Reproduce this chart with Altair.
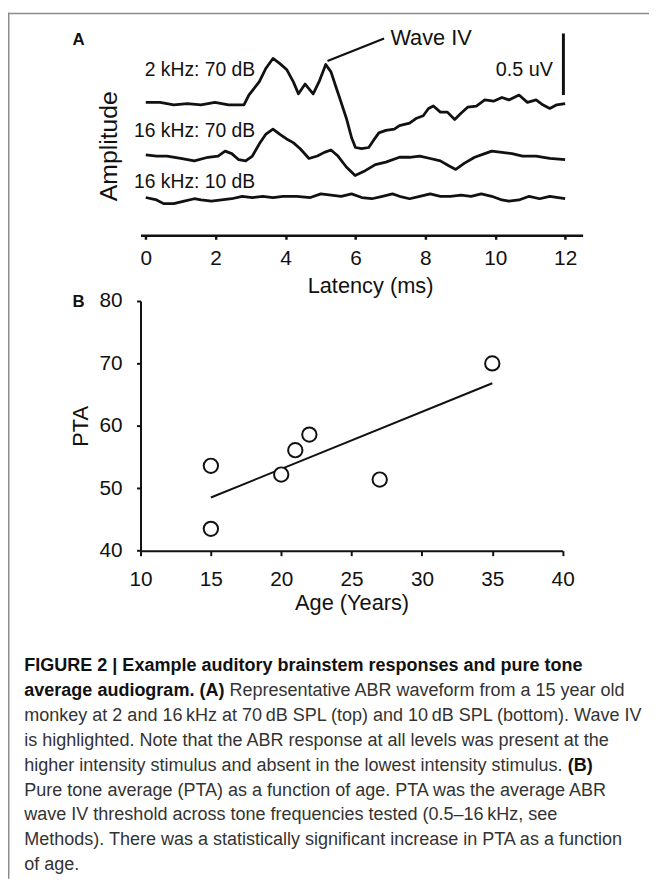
import altair as alt
import pandas as pd

FONT = "Liberation Sans"

# ---------------- Panel A: ABR waveforms (latency ms, amplitude uV incl. stacking offset)
lat_2k70 = [0.00, 0.41, 0.80, 1.19, 1.58, 1.98, 2.37, 2.81, 2.95, 3.25, 3.44, 3.64, 3.83, 4.03, 4.22,
            4.37, 4.56, 4.79, 4.96, 5.15, 5.30, 5.45, 5.59, 5.74, 5.89, 6.00, 6.18, 6.38, 6.52, 6.67,
            6.87, 7.11, 7.26, 7.55, 7.75, 7.94, 8.09, 8.23, 8.43, 8.63, 8.84, 9.02, 9.21, 9.46, 9.70,
            9.95, 10.19, 10.39, 10.68, 10.92, 11.17, 11.36, 11.56, 11.76, 12.00]
amp_2k70 = [0.99, 0.99, 0.97, 0.98, 0.97, 0.99, 0.97, 0.97, 1.05, 1.16, 1.27, 1.35, 1.31, 1.26, 1.16,
            1.06, 1.14, 1.06, 1.16, 1.30, 1.24, 1.11, 0.99, 0.86, 0.70, 0.62, 0.61, 0.62, 0.68, 0.74,
            0.76, 0.77, 0.80, 0.82, 0.86, 0.88, 0.94, 0.96, 0.91, 0.91, 0.85, 0.90, 0.95, 0.96, 1.01,
            1.00, 1.03, 1.01, 1.05, 0.99, 1.01, 0.97, 0.94, 0.97, 0.98]

lat_16k70 = [0.00, 0.31, 0.61, 1.00, 1.39, 1.78, 2.07, 2.27, 2.46, 2.66, 2.86, 3.05, 3.25, 3.44, 3.64,
             3.83, 4.03, 4.22, 4.42, 4.67, 4.91, 5.11, 5.30, 5.50, 5.74, 5.99, 6.28, 6.57, 6.87, 7.26,
             7.55, 7.84, 8.14, 8.43, 8.67, 8.87, 9.11, 9.41, 9.70, 9.90, 10.19, 10.48, 10.78, 11.17,
             11.56, 12.00]
amp_16k70 = [0.56, 0.55, 0.55, 0.53, 0.51, 0.54, 0.55, 0.59, 0.57, 0.52, 0.51, 0.55, 0.65, 0.73, 0.77,
             0.73, 0.69, 0.66, 0.61, 0.53, 0.55, 0.58, 0.60, 0.55, 0.46, 0.39, 0.43, 0.48, 0.50, 0.54,
             0.54, 0.55, 0.53, 0.51, 0.47, 0.44, 0.49, 0.54, 0.57, 0.59, 0.58, 0.57, 0.55, 0.55,
             0.53, 0.52]

lat_16k10 = [0.00, 0.31, 0.51, 0.80, 1.10, 1.39, 1.58, 1.88, 2.17, 2.46, 2.76, 3.05, 3.35, 3.64, 3.93,
             4.32, 4.71, 5.01, 5.30, 5.59, 5.89, 6.18, 6.47, 6.77, 7.06, 7.26, 7.55, 7.84, 8.14, 8.43,
             8.72, 9.02, 9.31, 9.60, 9.90, 10.19, 10.39, 10.68, 10.97, 11.27, 11.56, 12.00]
amp_16k10 = [0.21, 0.19, 0.16, 0.16, 0.18, 0.20, 0.19, 0.18, 0.19, 0.20, 0.22, 0.21, 0.22, 0.21, 0.22,
             0.22, 0.21, 0.24, 0.23, 0.22, 0.24, 0.21, 0.20, 0.22, 0.24, 0.22, 0.20, 0.22, 0.24, 0.22,
             0.22, 0.23, 0.22, 0.24, 0.22, 0.19, 0.18, 0.19, 0.22, 0.20, 0.22, 0.20]

trace_names = ["2 kHz: 70 dB", "16 kHz: 70 dB", "16 kHz: 10 dB"]
label_amp = [1.257, 0.757, 0.338]
label_lat = [3.13, 3.13, 3.13]

wave_iv_text = "Wave IV"
wave_iv_line_lat = [5.20, 6.82]
wave_iv_line_amp = [1.33, 1.514]
scale_bar_lat = 11.95
scale_bar_amp = [1.05, 1.555]
scale_bar_text = "0.5 uV"

# ---------------- Panel B: PTA vs age
age = [15, 15, 20, 21, 22, 27, 35]
pta = [53.6, 43.5, 52.2, 56.1, 58.6, 51.4, 70.0]

# ---------------- Caption
caption_lines = [
    ("FIGURE 2 | Example auditory brainstem responses and pure tone", "bold", 0, 0.0),
    ("average audiogram. (A)", "bold", 1, 0.0),
    ("Representative ABR waveform from a 15 year old", "normal", 1, 11.39),
    ("monkey at 2 and 16\u2009kHz at 70\u2009dB SPL (top) and 10\u2009dB SPL (bottom). Wave IV", "normal", 2, 0.0),
    ("is highlighted. Note that the ABR response at all levels was present at the", "normal", 3, 0.0),
    ("higher intensity stimulus and absent in the lowest intensity stimulus.", "normal", 4, 0.0),
    ("(B)", "bold", 4, 30.18),
    ("Pure tone average (PTA) as a function of age. PTA was the average ABR", "normal", 5, 0.0),
    ("wave IV threshold across tone frequencies tested (0.5\u201316\u2009kHz, see", "normal", 6, 0.0),
    ("Methods). There was a statistically significant increase in PTA as a function", "normal", 7, 0.0),
    ("of age.", "normal", 8, 0.0),
]
CAP_FS = 18.2
CAP_X0 = -117.45

# ---------------- build tables
rows = []
for name, lats, amps in zip(trace_names, [lat_2k70, lat_16k70, lat_16k10], [amp_2k70, amp_16k70, amp_16k10]):
    for i, (l, a) in enumerate(zip(lats, amps)):
        rows.append({"trace": name, "idx": i, "lat": l, "amp": a})
df_traces = pd.DataFrame(rows)
df_labels = pd.DataFrame({"name": trace_names, "lat": label_lat, "amp": label_amp})
df_leader = pd.DataFrame({"lat": [wave_iv_line_lat[0]], "lat2": [wave_iv_line_lat[1]],
                          "amp": [wave_iv_line_amp[0]], "amp2": [wave_iv_line_amp[1]]})
df_wave = pd.DataFrame({"lat": [7.0], "amp": [1.514], "t": [wave_iv_text]})
df_bar = pd.DataFrame({"lat": [scale_bar_lat], "amp": [scale_bar_amp[0]], "amp2": [scale_bar_amp[1]]})
df_bartext = pd.DataFrame({"lat": [11.65], "amp": [1.257], "t": [scale_bar_text]})
one = pd.DataFrame({"k": [0]})

xA = alt.Scale(domain=[-0.15, 12.5], nice=False, zero=False)
yA = alt.Scale(domain=[-0.1, 1.6], nice=False, zero=False)
WA, HA = 446.9, 209.6

frame_color = "#8c8c8c"
frame_top = alt.Chart(one).mark_rule(color=frame_color, strokeWidth=1.5).encode(
    x=alt.value(-133.95), x2=alt.value(514), y=alt.value(-14.7))
frame_left = alt.Chart(one).mark_rule(color=frame_color, strokeWidth=1.5).encode(
    x=alt.value(-133.2), y=alt.value(-15.45), y2=alt.value(860))

traces = alt.Chart(df_traces).mark_line(color="#111111", strokeWidth=2.8, strokeJoin="round").encode(
    x=alt.X("lat:Q", scale=xA, axis=alt.Axis(
        values=list(range(13)), labelExpr="datum.value % 2 === 0 ? datum.label : ''",
        tickSize=4, tickWidth=2.5, domainWidth=2.6, labelFontSize=21, labelPadding=9,
        labelFlush=False, labelOverlap=False, grid=False,
        title="Latency (ms)", titleFontSize=22, titlePadding=7, titleX=232)),
    y=alt.Y("amp:Q", scale=yA, axis=alt.Axis(
        title="Amplitude", domain=False, ticks=False, labels=False, grid=False, tickSize=0,
        titleFontSize=25, titlePadding=19.5, titleY=119, minExtent=0)),
    detail="trace:N",
    order="idx:Q",
)
labels = alt.Chart(df_labels).mark_text(align="right", baseline="middle", fontSize=19.5, font=FONT,
                                        color="#111111").encode(x="lat:Q", y="amp:Q", text="name:N")
leader = alt.Chart(df_leader).mark_rule(color="#111111", strokeWidth=2.2).encode(
    x="lat:Q", x2="lat2:Q", y="amp:Q", y2="amp2:Q")
wave = alt.Chart(df_wave).mark_text(align="left", baseline="middle", fontSize=22, font=FONT,
                                    color="#111111").encode(x="lat:Q", y="amp:Q", text="t:N")
bar = alt.Chart(df_bar).mark_rule(color="#111111", strokeWidth=3).encode(x="lat:Q", y="amp:Q", y2="amp2:Q")
bartext = alt.Chart(df_bartext).mark_text(align="right", baseline="middle", fontSize=20, font=FONT,
                                          color="#111111").encode(x="lat:Q", y="amp:Q", text="t:N")
letterA = alt.Chart(one).mark_text(text="A", fontWeight="bold", fontSize=17, font=FONT, color="#111111",
                                   align="center", baseline="middle").encode(
    x=alt.value(-62.7), y=alt.value(12.3))

panelA = alt.layer(frame_top, frame_left, traces, labels, leader, wave, bar, bartext, letterA).properties(
    width=WA, height=HA)

# ---------------- Panel B
df_b = pd.DataFrame({"age": age, "pta": pta})
xB = alt.Scale(domain=[10, 40], nice=False, zero=False)
yB = alt.Scale(domain=[40, 80], nice=False, zero=False)
baseB = alt.Chart(df_b)
reg = baseB.transform_regression("age", "pta").mark_line(color="#111111", strokeWidth=2).encode(
    x=alt.X("age:Q", scale=xB, axis=alt.Axis(
        values=[10, 15, 20, 25, 30, 35, 40], tickSize=5, tickWidth=2, domainWidth=2,
        labelFontSize=21, labelPadding=12.7, labelFlush=False, labelOverlap=False, grid=False,
        title="Age (Years)", titleFontSize=22, titlePadding=4)),
    y=alt.Y("pta:Q", scale=yB, axis=alt.Axis(
        values=[40, 50, 60, 70, 80], tickSize=4, tickWidth=2, domainWidth=2,
        labelFontSize=21, labelPadding=14.7, labelOverlap=False, grid=False,
        title="PTA", titleFontSize=22, titlePadding=7)),
)
pts = baseB.mark_point(shape="circle", filled=True, fill="white", stroke="#111111", strokeWidth=2,
                       size=210, opacity=1).encode(x="age:Q", y="pta:Q")
letterB = alt.Chart(one).mark_text(text="B", fontWeight="bold", fontSize=17, font=FONT, color="#111111",
                                   align="center", baseline="middle").encode(
    x=alt.value(-62.7), y=alt.value(0.7))
panelB = alt.layer(reg, pts, letterB).properties(width=426.7, height=252.4)

# ---------------- Caption panel
cap_df = pd.DataFrame({
    "text": [c[0] for c in caption_lines],
    "weight": [c[1] for c in caption_lines],
    "line": [c[2] for c in caption_lines],
    "xpx": [CAP_X0 + c[3] * CAP_FS for c in caption_lines],
})
capx = alt.X("xpx:Q", scale=alt.Scale(domain=[0, 1000], range=[0, 1000], nice=False, zero=False), axis=None)
capy = alt.Y("line:Q", scale=alt.Scale(domain=[0, 8], range=[55, 256.4], nice=False, zero=False), axis=None)
cap_bold = alt.Chart(cap_df).transform_filter(alt.datum.weight == "bold").mark_text(
    align="left", baseline="alphabetic", fontSize=CAP_FS, font=FONT, fontWeight="bold",
    color="#111111").encode(x=capx, y=capy, text="text:N")
cap_norm = alt.Chart(cap_df).transform_filter(alt.datum.weight == "normal").mark_text(
    align="left", baseline="alphabetic", fontSize=CAP_FS, font=FONT, fontWeight="normal",
    color="#333333").encode(x=capx, y=capy, text="text:N")
caption = alt.layer(cap_bold, cap_norm).properties(width=426.7, height=260)

# Fixed origin: the plot area of panel A sits at page (141.95, 23.45)
chart = alt.vconcat(panelA, panelB, caption, spacing=66, bounds="flush").properties(
    autosize=alt.AutoSizeParams(type="none"),
    padding={"left": 133.95, "top": 15.45, "right": 514, "bottom": 858.5},
    background="white",
).configure_view(stroke="transparent").configure_axis(
    labelFont=FONT, titleFont=FONT, labelColor="#111111", titleColor="#111111",
    domainColor="#111111", tickColor="#111111", titleFontWeight="normal"
)

chart.save("out.html", embed_options={"renderer": "svg", "actions": False})
